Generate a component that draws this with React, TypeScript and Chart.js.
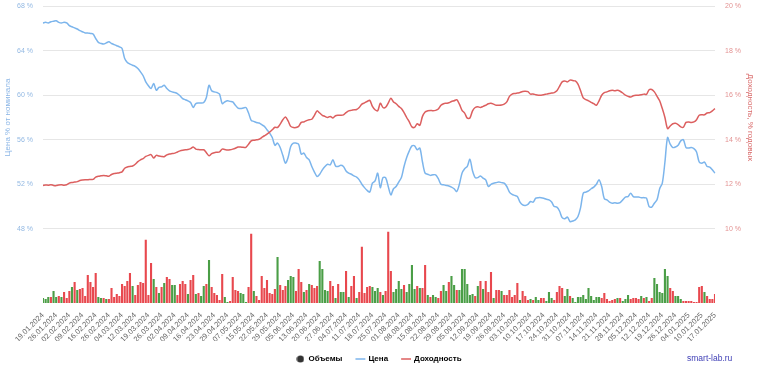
import { useEffect, useRef } from 'react';
import { Chart, registerables } from 'chart.js';

Chart.register(...registerables);

// Weekly tick labels (every 5th trading day)
const tickLabels = [
  '19.01.2024', '26.01.2024', '02.02.2024', '09.02.2024', '16.02.2024', '26.02.2024',
  '04.03.2024', '12.03.2024', '19.03.2024', '26.03.2024', '02.04.2024', '09.04.2024',
  '16.04.2024', '23.04.2024', '29.04.2024', '07.05.2024', '15.05.2024', '22.05.2024',
  '29.05.2024', '05.06.2024', '13.06.2024', '20.06.2024', '27.06.2024', '04.07.2024',
  '11.07.2024', '18.07.2024', '25.07.2024', '01.08.2024', '08.08.2024', '15.08.2024',
  '22.08.2024', '29.08.2024', '05.09.2024', '12.09.2024', '19.09.2024', '26.09.2024',
  '03.10.2024', '10.10.2024', '17.10.2024', '24.10.2024', '31.10.2024', '07.11.2024',
  '14.11.2024', '21.11.2024', '28.11.2024', '05.12.2024', '12.12.2024', '19.12.2024',
  '26.12.2024', '04.01.2025', '10.01.2025', '17.01.2025',
];

// Price, % of nominal (daily)
const price = [
  66.5, 66.55, 66.5, 66.6, 66.65, 66.7, 66.55, 66.5, 66.55, 66.5,
  66.25, 66.15, 66.05, 65.95, 65.8, 65.7, 65.6, 65.6, 65.55, 65.5,
  65.1, 64.75, 64.65, 64.6, 64.7, 64.8, 64.65, 64.55, 64.45, 64.35,
  64.2, 63.3, 62.95, 62.8, 62.7, 62.6, 62.4, 62.1, 61.75, 61.2,
  60.85, 60.6, 61.05, 60.45, 60.7, 60.75, 60.9, 60.6, 60.4, 60.3,
  60.25, 60.15, 59.95, 59.7, 59.6, 59.5, 59.35, 58.9, 59.25, 59.3,
  59.3, 59.35, 59.8, 60.9, 60.4, 60.3, 60.25, 60.1, 59.25, 59.4,
  59.5, 59.45, 59.4, 59.1, 58.85, 58.8, 58.85, 58.9, 58.4, 57.75,
  57.65, 57.55, 57.5, 57.35, 57.2, 56.9, 56.6, 56.2, 55.5, 55.7,
  55.3, 54.6, 53.9, 54.4, 55.4, 55.7, 55.7, 55.6, 54.7, 54.8,
  54.4, 54.2, 53.6, 53.1, 52.7, 52.9, 53.3, 53.6, 53.8, 53.75,
  54.2, 53.65, 53.6, 53.7, 53.6, 53.2, 53.0, 52.9, 52.75, 52.65,
  52.4, 52.0, 51.7, 51.45, 51.3, 52.1, 52.3, 53.0, 51.7, 52.6,
  52.6, 51.8, 51.05, 51.6, 51.8, 52.2, 52.6, 53.6, 54.4, 55.0,
  55.45, 55.45, 55.1, 55.25, 54.0, 53.0, 52.9, 52.8, 52.85, 52.85,
  52.5, 52.0, 51.95, 51.9, 51.85, 51.75, 51.6, 51.35, 52.0, 53.0,
  53.4, 53.6, 54.25, 53.2, 52.6, 52.6, 52.75, 52.55, 52.4, 51.8,
  52.0, 52.1, 52.15, 52.2, 52.15, 52.1, 51.8, 51.3, 51.1, 51.0,
  50.9, 50.4, 50.15, 50.1, 50.2, 50.45, 50.4, 50.75, 50.8, 50.8,
  50.75, 50.65, 50.6, 50.4, 50.0, 49.95, 49.6, 49.0, 48.9, 49.05,
  48.65, 48.7, 48.8, 49.1, 49.9, 51.2, 51.3, 51.4, 51.6, 51.75,
  52.0, 52.4, 51.8, 50.7, 50.6, 50.4, 50.3, 50.35, 50.3, 50.35,
  50.6, 50.85, 50.9, 51.2, 50.9, 50.85, 50.85, 50.8, 50.8, 50.75,
  50.0, 49.95, 50.3, 50.6, 51.6, 52.1, 54.0, 56.2, 55.6, 55.3,
  55.35, 55.5, 55.9, 56.0, 55.3, 55.25, 55.3, 55.2, 54.9, 54.0,
  53.9, 54.0, 53.6, 53.55, 53.3, 53.0,
];

// Yield, % annual (daily)
const yieldPct = [
  11.95, 11.97, 11.96, 11.98, 11.95, 11.94, 11.97, 11.98, 11.96, 11.98,
  12.05, 12.08, 12.1, 12.12, 12.17, 12.19, 12.2, 12.2, 12.22, 12.22,
  12.32, 12.36, 12.38, 12.4, 12.38, 12.36, 12.44, 12.48, 12.5, 12.52,
  12.56, 12.72, 12.78, 12.8, 12.82, 12.9, 13.02, 13.1, 13.15, 13.25,
  13.3, 13.33, 13.18, 13.3, 13.27, 13.25, 13.24, 13.32, 13.36, 13.38,
  13.4, 13.45, 13.5, 13.53, 13.55, 13.56, 13.6, 13.68, 13.58, 13.56,
  13.55, 13.55, 13.42, 13.28, 13.38, 13.42, 13.44, 13.46, 13.58, 13.56,
  13.54, 13.55, 13.58, 13.62, 13.67, 13.67, 13.66, 13.66, 13.8, 13.95,
  13.98, 14.0, 14.02, 14.1, 14.18, 14.25, 14.34, 14.45, 14.56, 14.55,
  14.7, 14.9, 15.02, 14.85, 14.6, 14.55, 14.55, 14.6, 14.78, 14.8,
  14.86, 14.9, 14.92, 15.1, 15.3, 15.2, 15.1, 15.05, 15.0, 15.05,
  14.98, 15.08, 15.1, 15.1, 15.12, 15.22, 15.3, 15.32, 15.35, 15.36,
  15.45, 15.6, 15.66, 15.72, 15.77, 15.5, 15.35, 15.3, 15.64, 15.45,
  15.46, 15.65, 15.86, 15.7, 15.62, 15.5, 15.4, 15.22, 15.0, 14.8,
  14.58, 14.56, 14.72, 14.65, 15.05, 15.25, 15.3, 15.32, 15.3, 15.32,
  15.38, 15.55, 15.62, 15.64, 15.66, 15.72, 15.75, 15.8, 15.6, 15.32,
  15.2, 14.97, 14.98, 15.3, 15.45, 15.48, 15.45, 15.5, 15.55, 15.62,
  15.64, 15.6, 15.55, 15.55, 15.56, 15.6, 15.7, 15.95, 16.05, 16.08,
  16.1, 16.12, 16.17, 16.18, 16.16, 16.05, 16.06, 16.02, 16.0, 16.0,
  16.02, 16.05, 16.08, 16.1, 16.12, 16.2, 16.4, 16.6, 16.64, 16.6,
  16.68, 16.66, 16.64, 16.5, 16.2, 15.88, 15.8, 15.75, 15.68, 15.62,
  15.55, 15.75, 16.0, 16.12, 16.15, 16.2, 16.22, 16.2, 16.22, 16.18,
  16.1, 16.0, 15.95, 15.92, 15.98, 16.0, 16.0, 16.02, 16.05, 16.04,
  16.25, 16.26, 16.15, 15.95, 15.75, 15.4, 15.0, 14.5, 14.62, 14.72,
  14.74, 14.68, 14.58, 14.56, 14.78, 14.8, 14.78, 14.8, 14.9, 15.1,
  15.12, 15.12, 15.2, 15.22, 15.3, 15.4,
];

// Daily trading volume (relative units)
const volume = [
  5, 4, 6, 6, 12, 6, 7, 6, 11, 5,
  12, 16, 21, 13, 14, 15, 7, 28, 21, 16,
  30, 6, 5, 5, 4, 4, 15, 6, 9, 7,
  19, 17, 22, 30, 17, 8, 18, 21, 20, 63,
  8, 40, 24, 16, 10, 16, 20, 26, 24, 18,
  18, 8, 19, 22, 19, 9, 23, 28, 9, 10,
  7, 17, 19, 43, 16, 10, 8, 3, 29, 6,
  1, 2, 26, 13, 12, 10, 9, 1, 16, 69,
  12, 7, 3, 27, 15, 23, 10, 9, 14, 46,
  18, 13, 17, 23, 27, 26, 12, 34, 21, 11,
  13, 19, 18, 15, 17, 42, 34, 13, 12, 22,
  17, 5, 19, 11, 11, 32, 6, 17, 27, 5,
  11, 56, 10, 16, 17, 16, 12, 15, 11, 8,
  12, 71, 32, 11, 14, 22, 14, 18, 11, 19,
  38, 14, 17, 15, 15, 38, 8, 6, 8, 6,
  5, 12, 18, 12, 21, 27, 18, 13, 13, 34,
  34, 19, 8, 9, 7, 17, 22, 14, 22, 11,
  31, 5, 13, 13, 12, 8, 8, 13, 6, 8,
  20, 3, 12, 7, 3, 4, 3, 6, 3, 5,
  5, 2, 11, 5, 3, 11, 17, 15, 7, 14,
  7, 5, 1, 6, 6, 8, 4, 15, 7, 3,
  6, 6, 5, 10, 4, 2, 3, 4, 5, 5,
  2, 4, 8, 4, 5, 5, 4, 7, 5, 6,
  2, 5, 25, 19, 11, 10, 34, 27, 15, 12,
  7, 7, 4, 2, 2, 2, 2, 1, 1, 16,
  17, 11, 7, 4, 4, 9,
];

// Day direction for each volume bar: g = up, r = down
const volumeDirection = [
  'gggrggrgrr', 'rgrgrrrrrr', 'rggrgrrrrr', 'rrrrgrrrrr', 'rrgrgrgrrg',
  'grrrrgrrgr', 'ggrgrrrrrg', 'grrrrgggrr', 'grrrrrrrrg', 'rrrgggrrrg',
  'rgrrrggggr', 'rgrggrgrrg', 'rrrrrgggrg', 'rrrggggrgg', 'ggrgrrgrgg',
  'rrggrggrgg', 'ggggrgrgrr', 'rgrrgrrrrr', 'rgrrrgrggr', 'rgggrrrrgg',
  'rggggggggg', 'ggrrrrrrgr', 'gggrrrrgrg', 'rrggggggrr', 'gggrrrrrrr',
  'rgrrrr',
].join('').split('');

const FONT = "'Liberation Sans', Arial, sans-serif";
const BLUE = '#7cb5ec';
const RED = '#dc5f5f';
const BAR_UP = '#4a9e46';
const BAR_DOWN = '#e8484e';

export default function App() {
  const ref = useRef<HTMLCanvasElement>(null);

  useEffect(() => {
    if (!ref.current) return;
    const categories = price.map((_, i) => (i % 5 === 0 ? tickLabels[i / 5] : ''));
    const barColors = volumeDirection.map((d) => (d === 'g' ? BAR_UP : BAR_DOWN));

    const dot = document.createElement('canvas');
    dot.width = 8;
    dot.height = 8;
    const dctx = dot.getContext('2d')!;
    dctx.fillStyle = '#333333';
    dctx.beginPath();
    dctx.arc(4, 4, 3.6, 0, Math.PI * 2);
    dctx.fill();

    const watermark = {
      id: 'watermark',
      afterDraw(chart: any) {
        const ctx = chart.ctx;
        ctx.save();
        ctx.font = `8.5px ${FONT}`;
        ctx.fillStyle = '#3d3db5';
        ctx.textBaseline = 'middle';
        ctx.textAlign = 'left';
        ctx.fillText('smart-lab.ru', chart.width - 71, 359);
        ctx.restore();
      },
    };

    const chart = new Chart(ref.current, {
      type: 'line',
      data: {
        labels: categories,
        datasets: [
          {
            type: 'bar',
            label: 'Объемы',
            data: volume,
            yAxisID: 'yVol',
            backgroundColor: barColors,
            borderWidth: 0,
            barPercentage: 0.8,
            categoryPercentage: 1,
            order: 3,
          } as any,
          {
            type: 'line',
            label: 'Цена',
            data: price,
            yAxisID: 'yPrice',
            borderColor: BLUE,
            backgroundColor: BLUE,
            borderWidth: 1.5,
            pointRadius: 0,
            tension: 0.3,
            order: 2,
          },
          {
            type: 'line',
            label: 'Доходность',
            data: yieldPct,
            yAxisID: 'yYield',
            borderColor: RED,
            backgroundColor: RED,
            borderWidth: 1.5,
            pointRadius: 0,
            tension: 0.3,
            order: 1,
          },
        ],
      },
      options: {
        responsive: false,
        animation: false,
        layout: { padding: { top: 0, bottom: -3, left: 0, right: 0 } },
        plugins: {
          tooltip: { enabled: false },
          legend: {
            position: 'bottom',
            labels: {
              usePointStyle: true,
              boxWidth: 8,
              boxHeight: 7,
              padding: 14,
              color: '#333333',
              font: { family: FONT, size: 8, weight: 'bold' },
              generateLabels: () => [
                { text: 'Объемы', pointStyle: dot, fillStyle: '#333', strokeStyle: '#333', lineWidth: 0, hidden: false, datasetIndex: 0 },
                { text: 'Цена', pointStyle: 'line', fillStyle: BLUE, strokeStyle: BLUE, lineWidth: 1.5, hidden: false, datasetIndex: 1 },
                { text: 'Доходность', pointStyle: 'line', fillStyle: RED, strokeStyle: RED, lineWidth: 1.5, hidden: false, datasetIndex: 2 },
              ] as any,
            },
          },
        },
        scales: {
          x: {
            type: 'category',
            offset: false,
            grid: { display: false, drawTicks: false },
            border: { display: false },
            ticks: {
              autoSkip: false,
              maxRotation: 45,
              minRotation: 45,
              padding: 8,
              color: '#666666',
              font: { family: FONT, size: 7.5 },
            },
            afterFit: (s: any) => { s.height = 38; },
          },
          yVol: {
            type: 'linear',
            position: 'left',
            stack: 'left',
            stackWeight: 1,
            display: false,
            min: 0,
            max: 74,
          },
          yPrice: {
            type: 'linear',
            position: 'left',
            stack: 'left',
            stackWeight: 3,
            min: 48,
            max: 68,
            grid: { color: '#e6e6e6', drawTicks: true, tickLength: 8, tickColor: 'rgba(0,0,0,0)' },
            border: { display: false },
            ticks: {
              stepSize: 4,
              padding: 2,
              color: '#93b9e3',
              font: { family: FONT, size: 7 },
              callback: (v: any) => `${v} %`,
            },
            title: {
              display: true,
              text: 'Цена % от номинала',
              color: '#8ab5e6',
              font: { family: FONT, size: 8 },
              padding: { top: 3, bottom: 0 },
            },
            afterFit: (s: any) => { s.width = 43; },
          },
          yYield: {
            type: 'linear',
            position: 'right',
            stack: 'right',
            stackWeight: 3,
            min: 10,
            max: 20,
            grid: { display: false, drawTicks: true, tickLength: 8, tickColor: 'rgba(0,0,0,0)' },
            border: { display: false },
            ticks: {
              stepSize: 2,
              padding: 2,
              color: '#e39393',
              font: { family: FONT, size: 7 },
              callback: (v: any) => `${v} %`,
            },
            title: {
              display: true,
              text: 'Доходность, % годовых',
              color: '#d96a6a',
              font: { family: FONT, size: 8 },
              padding: { top: 3, bottom: 0 },
            },
            afterFit: (s: any) => { s.width = 43; },
          },
          yPad: {
            type: 'linear',
            position: 'right',
            stack: 'right',
            stackWeight: 1,
            display: false,
          },
        },
      } as any,
      plugins: [watermark],
    });

    return () => chart.destroy();
  }, []);

  return (
    <div style={{ position: 'fixed', left: 0, top: 0, width: 758, height: 370, background: '#fff' }}>
      <canvas ref={ref} width={758} height={370} style={{ display: 'block' }} />
    </div>
  );
}
